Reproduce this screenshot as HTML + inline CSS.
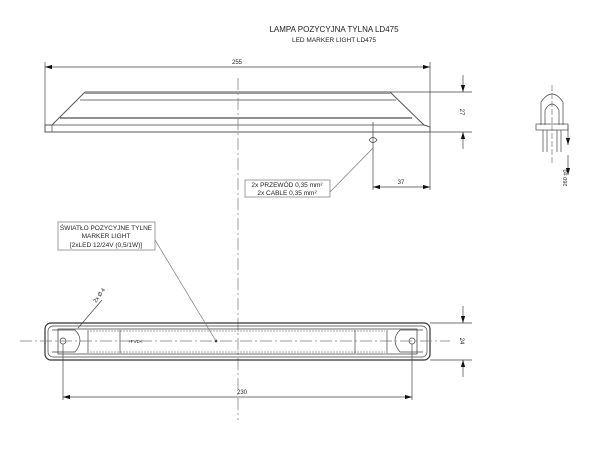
<!DOCTYPE html>
<html><head><style>body{margin:0;background:#fff}svg{display:block}text{font-family:"Liberation Sans",sans-serif;fill:#222}</style></head><body>
<svg width="600" height="460" viewBox="0 0 600 460" xmlns="http://www.w3.org/2000/svg">
<defs><marker id="a" viewBox="0 0 10 6" refX="10" refY="3" markerWidth="10" markerHeight="6" orient="auto-start-reverse"><path d="M0,0L10,3L0,6z" fill="#111"/></marker></defs>
<text x="334" y="32" font-size="8" text-anchor="middle">LAMPA POZYCYJNA TYLNA LD475</text>
<text x="334" y="42" font-size="6.5" text-anchor="middle">LED MARKER LIGHT LD475</text>
<g stroke="#444" stroke-width="0.7" fill="none">
<line x1="45" y1="67" x2="430" y2="67" marker-start="url(#a)" marker-end="url(#a)"/>
<line x1="45" y1="62" x2="45" y2="132"/><line x1="430" y1="62" x2="430" y2="190"/>
<path d="M85,92 L390,92 L424,125 L430,127 L430,132 L45,132 L45,125 L52,125 Z" stroke="#555" stroke-width="1"/>
<line x1="85" y1="93" x2="390" y2="93" stroke="#999" stroke-width="2"/>
<line x1="80" y1="100" x2="396" y2="100"/>
<line x1="60" y1="118" x2="412" y2="118" stroke="#222" stroke-width="1"/>
<line x1="52" y1="125" x2="424" y2="125"/>
<line x1="52" y1="125" x2="52" y2="132"/>
<line x1="390" y1="92" x2="472" y2="92"/><line x1="430" y1="132" x2="472" y2="132"/>
<line x1="463" y1="75" x2="463" y2="92" marker-end="url(#a)"/><line x1="463" y1="149" x2="463" y2="132" marker-end="url(#a)"/>
<line x1="238" y1="78" x2="238" y2="420" stroke-dasharray="12,3,2,3" stroke="#777"/>
<line x1="373" y1="122" x2="373" y2="190"/>
<path d="M369,140 Q373,135 377,140 Q373,145 369,140" />
<line x1="373" y1="187" x2="430" y2="187" marker-start="url(#a)" marker-end="url(#a)"/>
<rect x="245" y="180" width="85" height="17" stroke="#777"/>
<line x1="330" y1="192" x2="373" y2="148" stroke="#777"/>
<rect x="45" y="323" width="385" height="37" rx="6" stroke="#333" stroke-width="1.2"/>
<rect x="48" y="326" width="379" height="31" rx="5"/>
<rect x="58" y="329" width="359" height="25" stroke="#333"/>
<line x1="90" y1="331" x2="385" y2="331" stroke="#888" stroke-dasharray="2,1"/>
<line x1="90" y1="352" x2="385" y2="352" stroke="#888" stroke-dasharray="2,1"/>
<line x1="88" y1="330" x2="88" y2="353"/><line x1="120" y1="330" x2="120" y2="353"/>
<line x1="355" y1="330" x2="355" y2="353"/><line x1="387" y1="330" x2="387" y2="353"/>
<path d="M52,330 L75,330 Q85,340 75,352 L52,352"/><path d="M423,330 L400,330 Q390,340 400,352 L423,352"/>
<circle cx="63" cy="341" r="3"/><circle cx="412" cy="341" r="3"/>
<line x1="20" y1="341" x2="450" y2="341" stroke-dasharray="12,3,2,3" stroke="#777"/>
<circle cx="216" cy="341" r="1" fill="#111"/>
<line x1="63" y1="344" x2="63" y2="400"/><line x1="412" y1="344" x2="412" y2="400"/>
<line x1="63" y1="397" x2="412" y2="397" marker-start="url(#a)" marker-end="url(#a)"/>
<line x1="430" y1="323" x2="472" y2="323"/><line x1="430" y1="360" x2="472" y2="360"/>
<line x1="463" y1="306" x2="463" y2="323" marker-end="url(#a)"/><line x1="463" y1="377" x2="463" y2="360" marker-end="url(#a)"/>
<line x1="102" y1="300" x2="78" y2="328"/>
<rect x="58" y="222" width="97" height="28" stroke="#777"/>
<line x1="155" y1="240" x2="216" y2="341" stroke="#777"/>
<line x1="552" y1="85" x2="552" y2="165" stroke-dasharray="6,2" stroke="#777"/>
<path d="M541,125 L541,102 Q552,86 563,102 L563,125"/>
<path d="M545,125 L545,110 Q552,98 559,110 L559,125"/>
<rect x="536" y="124" width="32" height="6"/>
<line x1="543" y1="130" x2="543" y2="152"/><line x1="547" y1="130" x2="547" y2="152"/>
<line x1="557" y1="130" x2="557" y2="152"/><line x1="561" y1="130" x2="561" y2="152"/>
<line x1="568" y1="125" x2="568" y2="145" marker-end="url(#a)"/><line x1="568" y1="175" x2="568" y2="155" marker-start="url(#a)"/>
</g>
<text x="237" y="64" font-size="6" text-anchor="middle">255</text>
<text x="401" y="184" font-size="6" text-anchor="middle">37</text>
<text x="242" y="394" font-size="6" text-anchor="middle">230</text>
<text transform="translate(460,112) rotate(90)" font-size="6" text-anchor="middle">27</text>
<text transform="translate(460,341) rotate(90)" font-size="6" text-anchor="middle">24</text>
<text transform="translate(567,178) rotate(-90)" font-size="5.5" text-anchor="middle">260 ±0</text>
<text transform="translate(96,303) rotate(-55)" font-size="5.5">2x Ø 4</text>
<text x="287" y="187" font-size="6.5" text-anchor="middle">2x PRZEWÓD 0,35 mm²</text>
<text x="287" y="195" font-size="6.5" text-anchor="middle">2x CABLE 0,35 mm²</text>
<text x="106" y="230" font-size="6.5" text-anchor="middle">ŚWIATŁO POZYCYJNE TYLNE</text>
<text x="106" y="238" font-size="6.5" text-anchor="middle">MARKER LIGHT</text>
<text x="106" y="247" font-size="6.5" text-anchor="middle">[2xLED 12/24V (0,5/1W)]</text>
<text x="128" y="343" font-size="4.5">+PVD&lt;</text>
</svg>
</body></html>
